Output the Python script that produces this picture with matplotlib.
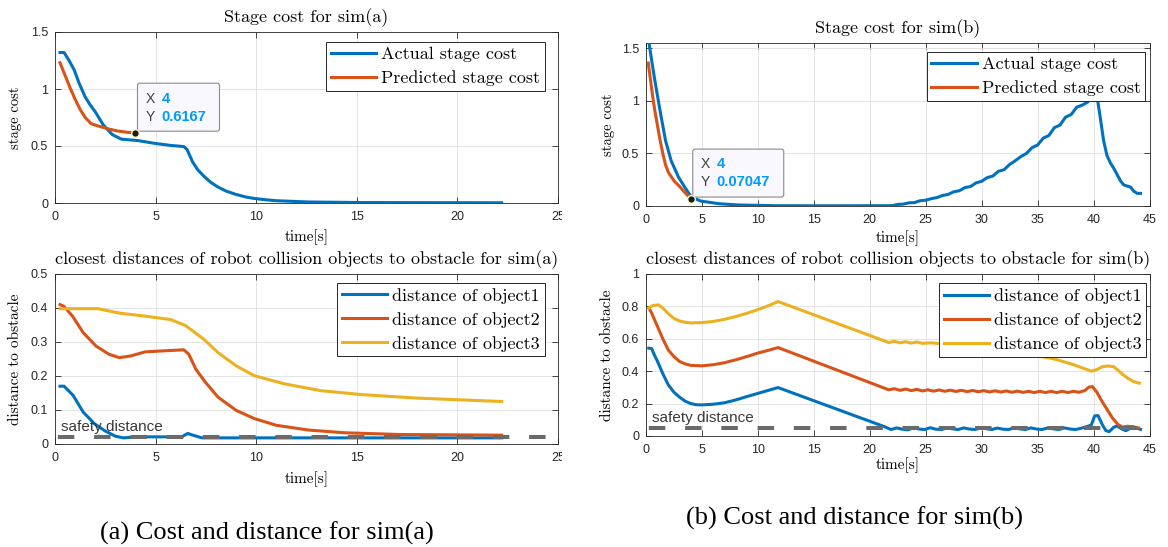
import matplotlib
matplotlib.use("Agg")
import matplotlib.pyplot as plt
from matplotlib.patches import FancyBboxPatch, Rectangle
from matplotlib.transforms import ScaledTranslation

# ---------------- data: sim(a) stage cost ----------------
t_cost_a_actual = [0.25, 0.45, 0.7, 0.96, 1.2, 1.5, 1.75, 2.0, 2.4, 2.85, 3.3, 4.1,
                   5.0, 5.75, 6.4, 6.56, 6.84, 7.1, 7.4, 7.75, 8.1, 8.5, 9.0, 9.5,
                   9.9, 10.5, 11.0, 12.6, 15.3, 22.2]
cost_a_actual = [1.32, 1.32, 1.25, 1.165, 1.05, 0.93, 0.86, 0.80, 0.685, 0.60, 0.56, 0.548,
                 0.522, 0.505, 0.495, 0.47, 0.36, 0.29, 0.235, 0.18, 0.14, 0.105, 0.075, 0.052,
                 0.04, 0.028, 0.02, 0.009, 0.004, 0.002]
t_cost_a_pred = [0.25, 0.5, 0.75, 1.0, 1.25, 1.5, 1.8, 2.1, 2.6, 3.1, 3.6, 4.0]
cost_a_pred = [1.23, 1.12, 1.01, 0.91, 0.82, 0.75, 0.695, 0.678, 0.652, 0.632, 0.62, 0.6167]

# ---------------- data: sim(b) stage cost ----------------
t_cost_b_actual = [0.25, 0.75, 1.25, 1.75, 2.25, 2.9, 3.55, 4.05, 4.9, 6.5, 8.2, 11.5, 16.0,
                   22.0, 22.5, 23.0, 23.5, 24.0, 24.5, 25.0, 25.5, 26.0, 26.5, 27.0, 27.5,
                   28.0, 28.5, 29.0, 29.5, 30.0, 30.5, 31.0, 31.5, 32.0, 32.5, 33.0, 33.5,
                   34.0, 34.5, 35.0, 35.5, 36.0, 36.5, 37.0, 37.5, 38.0, 38.5, 39.0, 39.5,
                   40.0, 40.3, 40.6, 40.9, 41.2, 41.5, 41.8, 42.1, 42.4, 42.7, 43.0, 43.3,
                   43.6, 43.9, 44.2]
cost_b_actual = [1.56, 1.22, 0.91, 0.62, 0.43, 0.275, 0.165, 0.085, 0.047, 0.022, 0.01, 0.003, 0.002,
                 0.003, 0.015, 0.018, 0.03, 0.033, 0.05, 0.055, 0.07, 0.08, 0.10, 0.11, 0.135,
                 0.145, 0.175, 0.185, 0.22, 0.235, 0.27, 0.285, 0.33, 0.345, 0.395, 0.43, 0.47,
                 0.50, 0.555, 0.58, 0.645, 0.67, 0.745, 0.77, 0.845, 0.87, 0.94, 0.96, 0.99,
                 1.10, 1.05, 0.84, 0.62, 0.48, 0.41, 0.36, 0.30, 0.24, 0.20, 0.19, 0.18,
                 0.14, 0.12, 0.12]
t_cost_b_pred = [0.2, 0.4, 0.6, 0.8, 1.0, 1.25, 1.5, 1.75, 2.0, 2.5, 3.0, 3.5, 4.0]
cost_b_pred = [1.36, 1.2, 1.04, 0.9, 0.78, 0.63, 0.5, 0.39, 0.32, 0.24, 0.185, 0.125, 0.07047]

# ---------------- data: sim(a) distances ----------------
t_d1_a = [0.25, 0.45, 0.9, 1.4, 1.95, 2.5, 3.0, 3.4, 4.1, 5.0, 6.3, 6.6, 6.85, 7.3, 8.0, 10.0, 15.0, 22.2]
d1_a = [0.17, 0.17, 0.143, 0.094, 0.06, 0.038, 0.023, 0.018, 0.021, 0.021, 0.021, 0.031, 0.026,
        0.018, 0.018, 0.018, 0.018, 0.018]
t_d2_a = [0.25, 0.45, 0.87, 1.41, 2.04, 2.68, 3.2, 3.76, 4.48, 5.4, 6.4, 6.65, 7.0, 7.47, 8.1,
          9.0, 9.9, 11.0, 12.6, 14.4, 17.1, 22.2]
d2_a = [0.41, 0.405, 0.376, 0.327, 0.288, 0.264, 0.254, 0.259, 0.271, 0.274, 0.277, 0.264, 0.22,
        0.182, 0.138, 0.099, 0.075, 0.055, 0.041, 0.033, 0.028, 0.026]
t_d3_a = [0.25, 2.13, 3.2, 4.48, 5.75, 6.47, 7.4, 8.1, 9.0, 9.9, 11.4, 13.2, 15.3, 18.0, 22.2]
d3_a = [0.398, 0.398, 0.385, 0.376, 0.366, 0.349, 0.308, 0.269, 0.23, 0.201, 0.177, 0.157,
        0.145, 0.135, 0.125]
safety_a = 0.02

# ---------------- data: sim(b) distances ----------------
t_d1_b = [0.25, 0.5, 0.75, 1.0, 1.5, 2.0, 2.5, 3.0, 3.5, 4.0, 4.5, 5.0, 6.0, 7.0, 8.0, 9.0, 10.0,
          11.0, 11.8, 21.3, 21.9,
          22.4, 22.9, 23.4, 23.9, 24.4, 24.9, 25.4, 25.9, 26.4, 26.9, 27.4, 27.9, 28.4, 28.9,
          29.4, 29.9, 30.4, 30.9, 31.4, 31.9, 32.4, 32.9, 33.4, 33.9, 34.4, 34.9, 35.4, 35.9,
          36.4, 36.9, 37.4, 37.9, 38.4, 38.9,
          39.4, 39.8, 40.1, 40.4, 40.8, 41.1, 41.4, 41.8, 42.1, 42.6, 42.9, 43.4, 43.9, 44.2]
d1_b = [0.542, 0.54, 0.5, 0.465, 0.385, 0.315, 0.27, 0.24, 0.215, 0.2, 0.193, 0.192, 0.196,
        0.205, 0.222, 0.243, 0.263, 0.283, 0.299, 0.058, 0.04,
        0.05, 0.042, 0.038, 0.05, 0.043, 0.04, 0.051, 0.042, 0.04, 0.05, 0.044, 0.04, 0.05, 0.043,
        0.04, 0.05, 0.045, 0.04, 0.049, 0.042, 0.04, 0.05, 0.044, 0.04, 0.05, 0.043, 0.04, 0.05,
        0.044, 0.04, 0.05, 0.043, 0.04, 0.048,
        0.058, 0.068, 0.124, 0.126, 0.068, 0.033, 0.027, 0.054, 0.062, 0.041, 0.033, 0.052, 0.047, 0.041]
t_d2_b = [0.25, 0.5, 0.75, 1.0, 1.5, 2.0, 2.5, 3.0, 3.5, 4.0, 5.0, 6.0, 7.0, 8.0, 9.0, 10.0, 11.0,
          11.8, 21.7,
          22.2, 22.7, 23.2, 23.7, 24.2, 24.7, 25.2, 25.7, 26.2, 26.7, 27.2, 27.7, 28.2, 28.7,
          29.2, 29.7, 30.2, 30.7, 31.2, 31.7, 32.2, 32.7, 33.2, 33.7, 34.2, 34.7, 35.2, 35.7,
          36.2, 36.7, 37.2, 37.7, 38.2, 38.7,
          39.2, 39.6, 39.9, 40.3, 40.7, 41.2, 41.7, 42.2, 42.6, 43.0, 43.5, 44.0]
d2_b = [0.79, 0.76, 0.72, 0.68, 0.6, 0.53, 0.49, 0.46, 0.445, 0.436, 0.433, 0.44, 0.452, 0.47,
        0.49, 0.512, 0.53, 0.546, 0.285,
        0.292, 0.282, 0.29, 0.28, 0.288, 0.278, 0.285, 0.277, 0.284, 0.276, 0.283, 0.275, 0.282,
        0.274, 0.281, 0.273, 0.28, 0.272, 0.279, 0.271, 0.278, 0.27, 0.277, 0.269, 0.276, 0.268,
        0.276, 0.268, 0.276, 0.268, 0.276, 0.268, 0.276, 0.27,
        0.28, 0.302, 0.305, 0.27, 0.22, 0.165, 0.11, 0.07, 0.055, 0.06, 0.058, 0.05]
t_d3_b = [0.25, 0.6, 1.1, 1.5, 2.0, 2.5, 3.0, 3.5, 4.0, 5.0, 6.0, 7.0, 8.0, 9.0, 10.0, 11.0, 11.8,
          21.7, 22.2, 22.7, 23.2, 23.7, 24.2, 24.7, 25.5, 27.0, 29.0, 31.0, 33.0, 35.0, 36.5,
          38.0, 39.1, 39.8, 40.3, 40.8, 41.3, 41.8, 42.2, 42.6, 43.1, 43.6, 44.1]
d3_b = [0.79, 0.805, 0.81, 0.79, 0.755, 0.725, 0.71, 0.702, 0.698, 0.7, 0.707, 0.72, 0.737,
        0.757, 0.78, 0.806, 0.83,
        0.577, 0.585, 0.575, 0.582, 0.573, 0.58, 0.572, 0.575, 0.565, 0.555, 0.54, 0.52, 0.495,
        0.475, 0.445, 0.418, 0.4, 0.41, 0.428, 0.432, 0.428, 0.405, 0.38, 0.355, 0.335, 0.326]
safety_b = 0.05

# ---------------- ticks and labels ----------------
xticks_a = [0, 5, 10, 15, 20, 25]
xticks_b = [0, 5, 10, 15, 20, 25, 30, 35, 40, 45]
yticks_cost = [0, 0.5, 1, 1.5]
ylabels_cost = ["0", "0.5", "1", "1.5"]
yticks_dist_a = [0, 0.1, 0.2, 0.3, 0.4, 0.5]
ylabels_dist_a = ["0", "0.1", "0.2", "0.3", "0.4", "0.5"]
yticks_dist_b = [0, 0.2, 0.4, 0.6, 0.8, 1]
ylabels_dist_b = ["0", "0.2", "0.4", "0.6", "0.8", "1"]

cost_labels = ["Actual stage cost", "Predicted stage cost"]
dist_labels = ["distance of object1", "distance of object2", "distance of object3"]

BLUE, ORANGE, YELLOW = "#0072BD", "#D95319", "#EDB120"
AXC = "#262626"
GRID = "#DFDFDF"
SERIF = "cmr10"
SANS = "Liberation Sans"

W, H = 1168, 547
fig = plt.figure(figsize=(W / 100, H / 100), dpi=100)


def add_axes_px(left, top, right, bottom):
    return fig.add_axes([left / W, 1 - bottom / H, (right - left) / W, (bottom - top) / H])


def fig_text(x, y, s, **kw):
    return fig.text(x / W, 1 - y / H, s, **kw)


def style(ax, xlim, ylim, xt, yt, ytl):
    ax.set_xlim(*xlim)
    ax.set_ylim(*ylim)
    ax.set_xticks(xt, [str(v) for v in xt])
    ax.set_yticks(yt, ytl)
    ax.tick_params(direction="in", top=True, right=True, length=4, width=0.6,
                   colors=AXC, labelsize=9, labelfontfamily=SANS)
    ax.tick_params(axis="x", pad=5.5)
    ax.tick_params(axis="y", pad=5.0)
    for sp in ax.spines.values():
        sp.set_color(AXC)
        sp.set_linewidth(0.6)
    ax.grid(True, color=GRID, lw=0.6)
    ax.set_axisbelow(True)


def legend(ax, handles, labels, right, top):
    lg = ax.legend(handles, labels, loc="upper right", bbox_to_anchor=(right, top),
                   borderaxespad=0, prop={"family": SERIF, "size": 13},
                   handlelength=2.5, handletextpad=0.28, borderpad=0.27,
                   labelspacing=0.45, fancybox=False, framealpha=1, edgecolor=AXC)
    lg.get_frame().set_linewidth(0.7)
    return lg


def datatip(ax, x, y, xs, ys, box_w, box_h, row1, row2):
    tr = ScaledTranslation(x, y, ax.transData)
    box = FancyBboxPatch((2, 1.5), box_w, box_h, boxstyle="round,pad=0,rounding_size=2.5",
                         fc="#F8F8FE", ec="#8A8A8A", lw=0.8, transform=tr, zorder=6, clip_on=False)
    ax.add_artist(box)
    for dy, key, val in ((row1, "X", xs), (row2, "Y", ys)):
        ax.text(10, dy, key, transform=tr, ha="left", va="center", fontsize=10,
                family=SANS, color="#404040", zorder=7, clip_on=False)
        ax.text(26, dy, val, transform=tr, ha="left", va="center", fontsize=10.5,
                family=SANS, fontweight="bold", color="#0099FF", zorder=7, clip_on=False)
    ax.plot([x], [y], "o", ms=5.5, mfc="#1A1A1A", mec="#FFF6C0", mew=1.0, zorder=8, clip_on=False)


def safety_line(ax, level, xmax, label_x, label_y):
    ax.plot([0, xmax], [level, level], color="#6A6A6A", lw=2.9,
            linestyle=(8.3, (4.1, 4.9)), solid_capstyle="butt", zorder=4)
    ax.text(label_x, label_y, "safety distance", fontsize=11, family=SANS, color="#3A3A3A",
            ha="left", va="baseline", zorder=4)


LW = 2.2

# ---- top left: stage cost sim(a)
ax1 = add_axes_px(55, 32, 558, 203)
style(ax1, (0, 25), (0, 1.5), xticks_a, yticks_cost, ylabels_cost)
h1, = ax1.plot(t_cost_a_actual, cost_a_actual, color=BLUE, lw=LW, zorder=3)
h2, = ax1.plot(t_cost_a_pred, cost_a_pred, color=ORANGE, lw=LW, zorder=3)
legend(ax1, [h1, h2], cost_labels, 0.974, 0.942)
datatip(ax1, t_cost_a_pred[-1], cost_a_pred[-1], "4", "0.6167", 82, 48, 33.7, 16.0)

# ---- top right: stage cost sim(b)
ax2 = add_axes_px(646, 43, 1149.5, 206)
style(ax2, (0, 45), (0, 1.55), xticks_b, yticks_cost, ylabels_cost)
h1, = ax2.plot(t_cost_b_actual, cost_b_actual, color=BLUE, lw=LW, zorder=3)
h2, = ax2.plot(t_cost_b_pred, cost_b_pred, color=ORANGE, lw=LW, zorder=3)
legend(ax2, [h1, h2], cost_labels, 0.992, 0.945)
datatip(ax2, t_cost_b_pred[-1], cost_b_pred[-1], "4", "0.07047", 91, 48, 34.6, 17.0)

# ---- bottom left: distances sim(a)
ax3 = add_axes_px(55, 274, 558, 444)
style(ax3, (0, 25), (0, 0.5), xticks_a, yticks_dist_a, ylabels_dist_a)
hs = [ax3.plot(t, d, color=c, lw=LW, zorder=3)[0]
      for t, d, c in ((t_d1_a, d1_a, BLUE), (t_d2_a, d2_a, ORANGE), (t_d3_a, d3_a, YELLOW))]
safety_line(ax3, safety_a, 25, 0.3, 0.039)
legend(ax3, hs, dist_labels, 0.974, 0.947)

# ---- bottom right: distances sim(b)
ax4 = add_axes_px(646, 274, 1149.5, 436)
style(ax4, (0, 45), (0, 1), xticks_b, yticks_dist_b, ylabels_dist_b)
hs = [ax4.plot(t, d, color=c, lw=LW, zorder=3)[0]
      for t, d, c in ((t_d1_b, d1_b, BLUE), (t_d2_b, d2_b, ORANGE), (t_d3_b, d3_b, YELLOW))]
safety_line(ax4, safety_b, 45, 0.55, 0.088)
legend(ax4, hs, dist_labels, 0.994, 0.942)

# ---- titles and axis labels
fig_text(306.5, 22.5, "Stage cost for sim(a)", ha="center", va="baseline", family=SERIF, fontsize=13)
fig_text(898, 33, "Stage cost for sim(b)", ha="center", va="baseline", family=SERIF, fontsize=13)
fig_text(306.5, 264, "closest distances of robot collision objects to obstacle for sim(a)",
         ha="center", va="baseline", family=SERIF, fontsize=13)
fig_text(898, 264, "closest distances of robot collision objects to obstacle for sim(b)",
         ha="center", va="baseline", family=SERIF, fontsize=13)

for x, y in ((306.5, 237), (898, 238), (306.5, 479), (898, 465)):
    fig_text(x, y, "time[s]", ha="center", va="center", family=SERIF, fontsize=11)
for x, y, s, fs in ((15, 117.5, "stage cost", 10.5), (608, 124.5, "stage cost", 10.5),
                    (15, 359, "distance to obstacle", 11), (607, 355, "distance to obstacle", 11)):
    fig_text(x, y, s, ha="center", va="center", rotation=90, family=SERIF, fontsize=fs)

# the left panel is cut at its right edge
fig.add_artist(Rectangle((562 / W, 1 - 482 / H), 36 / W, 280 / H, transform=fig.transFigure,
                         fc="white", ec="none", zorder=20))

# ---- sub-captions
fig_text(266.5, 533, "(a) Cost and distance for sim(a)", ha="center", va="center",
         family="Liberation Serif", fontsize=19)
fig_text(855, 518, "(b) Cost and distance for sim(b)", ha="center", va="center",
         family="Liberation Serif", fontsize=19)

fig.savefig("out.png", dpi=100)
